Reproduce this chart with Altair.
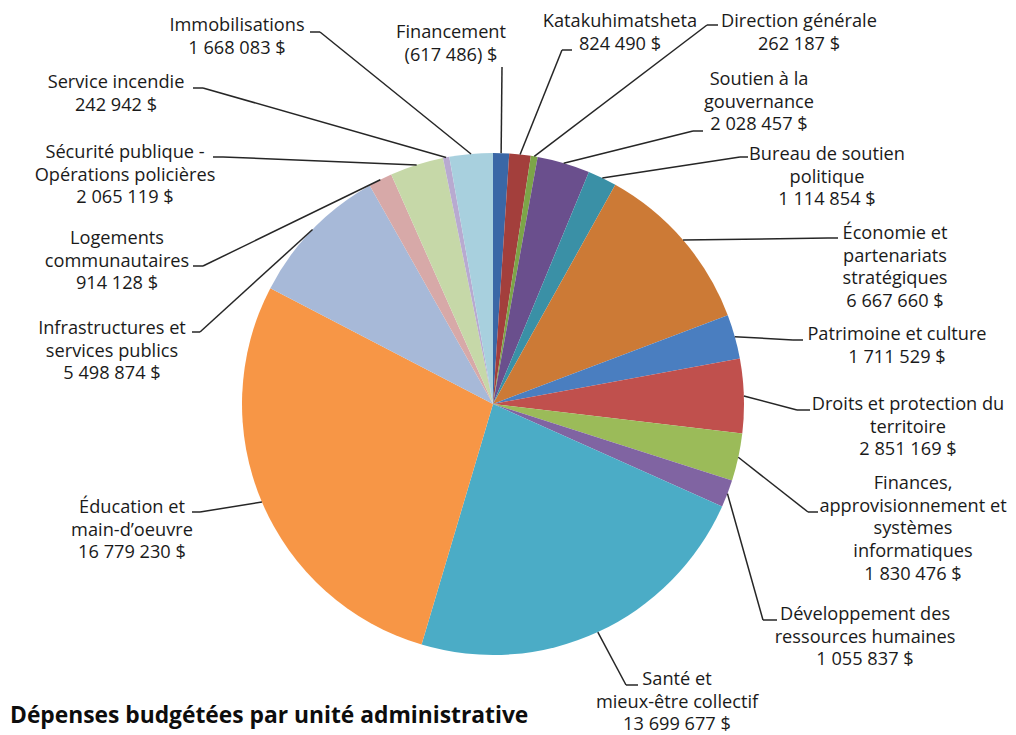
import altair as alt
import pandas as pd

# ---------------- data ----------------
units = [
    "Financement", "Katakuhimatsheta", "Direction générale",
    "Soutien à la gouvernance", "Bureau de soutien politique",
    "Économie et partenariats stratégiques", "Patrimoine et culture",
    "Droits et protection du territoire",
    "Finances, approvisionnement et systèmes informatiques",
    "Développement des ressources humaines", "Santé et mieux-être collectif",
    "Éducation et main-d’oeuvre", "Infrastructures et services publics",
    "Logements communautaires", "Sécurité publique - Opérations policières",
    "Service incendie", "Immobilisations",
]
amounts = [
    -617486, 824490, 262187, 2028457, 1114854, 6667660, 1711529, 2851169,
    1830476, 1055837, 13699677, 16779230, 5498874, 914128, 2065119, 242942,
    1668083,
]
label_names = [
    "Financement", "Katakuhimatsheta", "Direction générale",
    "Soutien à la\ngouvernance", "Bureau de soutien\npolitique",
    "Économie et\npartenariats\nstratégiques", "Patrimoine et culture",
    "Droits et protection du\nterritoire",
    "Finances,\napprovisionnement et\nsystèmes\ninformatiques",
    "Développement des\nressources humaines", "Santé et\nmieux-être collectif",
    "Éducation et\nmain-d’oeuvre", "Infrastructures et\nservices publics",
    "Logements\ncommunautaires", "Sécurité publique -\nOpérations policières",
    "Service incendie", "Immobilisations",
]
title_text = "Dépenses budgétées par unité administrative"

colors = [
    "#3A67A6", "#A33F3C", "#7CA548", "#6A4F8D", "#3A90A6", "#CC7A36",
    "#4A7EC0", "#C0504D", "#9BBB59", "#8064A2", "#4BACC6", "#F79646",
    "#A7B9D8", "#D7A9A8", "#C6D8A8", "#B8AAD0", "#A8D0DE",
]

# ---------------- layout (page pixel coordinates) ----------------
MARGIN = 8
W, H = 1000, 727
CX, CY, R = 493 - MARGIN, 404 - MARGIN, 251
FONT = "Open Sans"

label_cx = [451, 620, 799, 759, 827, 895, 897, 908, 913, 865, 677, 132, 112, 117, 125, 116, 237]
label_base = [38, 27, 27, 85, 160, 239, 340, 410, 489, 620, 685, 513, 334, 244, 158, 88, 31]
anchor_x = [502, 572, 718, 703, 748, 838, 803, 810, 818, 777, 638, 192, 192, 193, 213, 193, 310]
anchor_y = [67, 50, 25, 131, 157, 238, 340, 410, 512, 620, 685, 512, 332, 266, 157, 88, 32]
elbow_x = [502, 562, 707, 693, 740, 828, 793, 797, 808, 763, 626, 200, 200, 203, 223, 203, 320]
elbow_y = [67, 50, 25, 131, 157, 238, 340, 410, 512, 620, 685, 512, 332, 266, 157, 88, 32]


def fmt(v):
    s = f"{abs(v):,}".replace(",", " ")
    return f"({s}) $" if v < 0 else f"{s} $"


df = pd.DataFrame({
    "idx": list(range(len(units))),
    "unit": units,
    "size": [abs(v) for v in amounts],
    "label": [n + "\n" + fmt(v) for n, v in zip(label_names, amounts)],
    "tx": [v - MARGIN for v in label_cx],
    "ty": [v - MARGIN for v in label_base],
    "ax": [v - MARGIN for v in anchor_x],
    "ay": [v - MARGIN for v in anchor_y],
    "bx": [v - MARGIN for v in elbow_x],
    "by": [v - MARGIN for v in elbow_y],
})

base = alt.Chart(df)

arcs = base.mark_arc(outerRadius=R).encode(
    theta=alt.Theta("size:Q", stack=True),
    order=alt.Order("idx:Q", sort="ascending"),
    color=alt.Color("unit:N", scale=alt.Scale(domain=units, range=colors), legend=None),
    x=alt.value(CX),
    y=alt.value(CY),
)

geom = (
    base.transform_joinaggregate(total="sum(size)")
    .transform_window(cum="sum(size)", sort=[alt.SortField("idx", order="ascending")], frame=[None, 0])
    .transform_calculate(
        mid="(datum.cum - datum.size / 2) / datum.total * 2 * PI",
        ex=f"{CX} + {R} * sin(datum.mid)",
        ey=f"{CY} - {R} * cos(datum.mid)",
    )
)

LINE = "#262626"
leader1 = geom.mark_rule(color=LINE, strokeWidth=1.5).encode(
    x=alt.X("ex:Q", scale=None, axis=None),
    y=alt.Y("ey:Q", scale=None, axis=None),
    x2="bx:Q",
    y2="by:Q",
)
leader2 = base.mark_rule(color=LINE, strokeWidth=1.5).encode(
    x=alt.X("bx:Q", scale=None, axis=None),
    y=alt.Y("by:Q", scale=None, axis=None),
    x2="ax:Q",
    y2="ay:Q",
)

labels = base.mark_text(
    align="center", baseline="alphabetic", lineBreak="\n", font=FONT,
    fontSize=18.2, lineHeight=22.7, color="#1a1a1a",
).encode(
    x=alt.X("tx:Q", scale=None, axis=None),
    y=alt.Y("ty:Q", scale=None, axis=None),
    text="label:N",
)

title = alt.Chart(pd.DataFrame({"t": [title_text]})).mark_text(
    align="left", baseline="alphabetic", font=FONT, fontWeight="bold",
    fontSize=22.8, color="#0d0d0d",
).encode(x=alt.value(2), y=alt.value(723 - MARGIN), text="t:N")

chart = (
    alt.layer(arcs, leader1, leader2, labels, title)
    .properties(width=W, height=H, padding=0, autosize="none")
    .configure_view(stroke=None)
)

chart.save("out.html", embed_options={"renderer": "svg", "actions": False})
